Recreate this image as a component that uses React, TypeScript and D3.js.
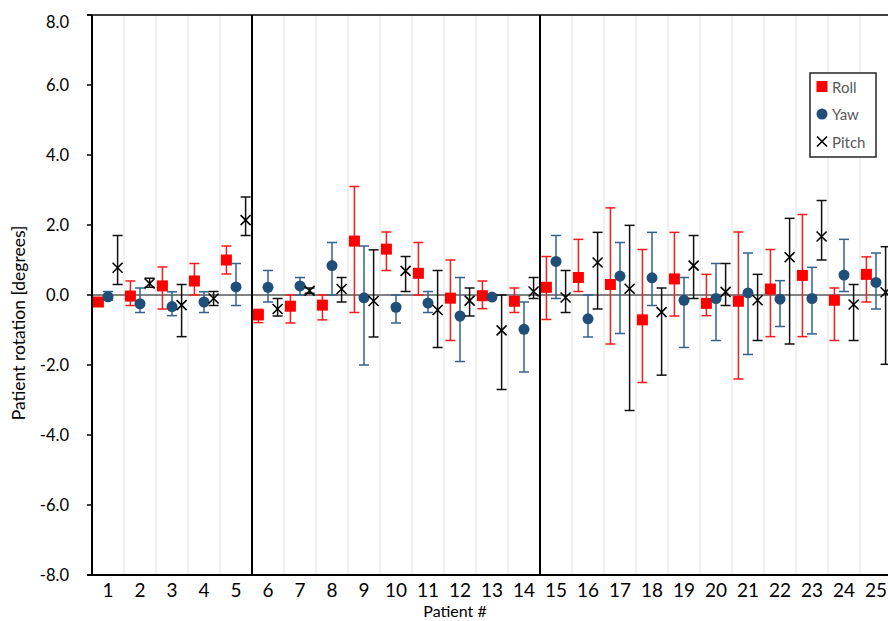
import React from "react";
import * as d3 from "d3";

const patients = ["1","2","3","4","5","6","7","8","9","10","11","12","13","14","15","16","17","18","19","20","21","22","23","24","25"];

const rollMean = [-0.2, -0.03, 0.26, 0.4, 1.0, -0.57, -0.32, -0.29, 1.54, 1.31, 0.62, -0.09, -0.02, -0.18, 0.22, 0.5, 0.3, -0.71, 0.46, -0.24, -0.18, 0.17, 0.56, -0.15, 0.59];
const rollLow = [-0.3, -0.3, -0.4, 0.0, 0.6, -0.79, -0.8, -0.71, -0.5, 0.7, 0.0, -1.3, -0.39, -0.5, -0.7, 0.1, -1.4, -2.5, -0.6, -0.59, -2.4, -1.19, -1.19, -1.3, -0.2];
const rollHigh = [-0.1, 0.4, 0.8, 0.9, 1.4, -0.41, 0.0, 0.0, 3.1, 1.8, 1.5, 1.0, 0.4, 0.2, 1.1, 1.59, 2.49, 1.3, 1.79, 0.59, 1.8, 1.3, 2.3, 0.2, 1.09];

const yawMean = [-0.05, -0.25, -0.33, -0.2, 0.23, 0.22, 0.26, 0.84, -0.08, -0.35, -0.23, -0.6, -0.06, -0.98, 0.96, -0.68, 0.54, 0.49, -0.15, -0.1, 0.06, -0.12, -0.1, 0.57, 0.36];
const yawLow = [-0.15, -0.5, -0.59, -0.5, -0.3, -0.2, 0.0, 0.0, -2.0, -0.8, -0.5, -1.9, -0.1, -2.2, -0.1, -1.2, -1.1, -0.3, -1.5, -1.3, -1.7, -0.9, -1.11, 0.1, -0.4];
const yawHigh = [0.1, 0.2, 0.09, 0.09, 0.9, 0.7, 0.5, 1.5, 1.4, 0.0, 0.1, 0.5, -0.02, -0.2, 1.7, 0.0, 1.5, 1.79, 0.5, 0.9, 1.2, 0.41, 0.79, 1.59, 1.2];

const pitchMean = [0.78, 0.33, -0.29, -0.1, 2.14, -0.4, 0.12, 0.17, -0.17, 0.69, -0.43, -0.16, -1.01, 0.1, -0.07, 0.93, 0.18, -0.49, 0.84, 0.09, -0.15, 1.08, 1.67, -0.27, 0.08];
const pitchLow = [0.3, 0.22, -1.19, -0.3, 1.7, -0.6, 0.05, -0.2, -1.2, 0.1, -1.5, -0.6, -2.7, -0.1, -0.5, -0.4, -3.3, -2.29, -0.1, -0.3, -1.3, -1.4, 1.0, -1.3, -1.98];
const pitchHigh = [1.7, 0.48, 0.3, 0.1, 2.8, -0.1, 0.2, 0.5, 1.29, 1.1, 0.7, 0.2, 0.0, 0.5, 0.7, 1.79, 1.99, 0.2, 1.7, 0.9, 0.59, 2.19, 2.7, 0.3, 1.38];

const yTicks = [-8, -6, -4, -2, 0, 2, 4, 6, 8];
const groupBreaks = [5, 14];

const FONT = "Lato, 'Open Sans', sans-serif";

export default function App() {
  const width = 888;
  const height = 621;

  const x = d3.scaleLinear().domain([0, 25]).range([92, 892]);
  const y = d3.scaleLinear().domain([-8, 8]).range([575, 15]);

  const series = [
    { name: "Roll", mean: rollMean, low: rollLow, high: rollHigh, offset: 0.2, color: "#ff0000", barColor: "#ff1a1a", shape: "square" },
    { name: "Yaw", mean: yawMean, low: yawLow, high: yawHigh, offset: 0.5, color: "#1f4e79", barColor: "#33628f", shape: "circle" },
    { name: "Pitch", mean: pitchMean, low: pitchLow, high: pitchHigh, offset: 0.8, color: "#000000", barColor: "#111111", shape: "cross" },
  ];

  const marker = (shape: string, cx: number, cy: number, color: string, key?: string) => {
    if (shape === "square") {
      return <rect key={key} x={cx - 5.5} y={cy - 5.5} width={11} height={11} fill={color} />;
    }
    if (shape === "circle") {
      return <circle key={key} cx={cx} cy={cy} r={5.5} fill={color} />;
    }
    return (
      <path
        key={key}
        d={`M${cx - 5},${cy - 5}L${cx + 5},${cy + 5}M${cx - 5},${cy + 5}L${cx + 5},${cy - 5}`}
        stroke={color}
        strokeWidth={1.6}
        fill="none"
      />
    );
  };

  return (
    <svg
      width={width}
      height={height}
      style={{ position: "absolute", left: 0, top: 0, background: "#fff" }}
      fontFamily={FONT}
    >
      <rect x={0} y={0} width={width} height={height} fill="#fff" />

      {/* vertical gridlines between patients */}
      {patients.map((p, i) =>
        i === 0 ? null : (
          <line key={"g" + p} x1={x(i)} x2={x(i)} y1={y(8)} y2={y(-8)} stroke="#ececec" strokeWidth={1.5} />
        )
      )}

      {/* zero line */}
      <line x1={x(0)} x2={x(25)} y1={y(0)} y2={y(0)} stroke="#595959" strokeWidth={1.5} />

      {/* group separators */}
      {groupBreaks.map((b) => (
        <line key={"b" + b} x1={x(b)} x2={x(b)} y1={y(8)} y2={y(-8)} stroke="#000" strokeWidth={2} />
      ))}

      {/* axes */}
      <line x1={x(0)} x2={x(0)} y1={y(8)} y2={y(-8)} stroke="#000" strokeWidth={2} />
      <line x1={x(0) - 5} x2={x(25)} y1={y(-8)} y2={y(-8)} stroke="#000" strokeWidth={2} />
      <line x1={x(0) - 5} x2={x(25)} y1={y(8)} y2={y(8)} stroke="#000" strokeWidth={1.5} />
      {yTicks.map((t) => (
        <g key={"yt" + t}>
          <line x1={x(0) - 5} x2={x(0)} y1={y(t)} y2={y(t)} stroke="#000" strokeWidth={1.5} />
          <text
            x={69}
            y={Math.max(y(t), 21.5)}
            textAnchor="end"
            dominantBaseline="central"
            fontSize={16.5}
            fill="#000"
          >
            {t.toFixed(1)}
          </text>
        </g>
      ))}

      {patients.map((p, i) => (
        <text key={"xt" + p} x={x(i + 0.5)} y={597} textAnchor="middle" fontSize={19} fill="#000">
          {p}
        </text>
      ))}

      <text x={455} y={617} textAnchor="middle" fontSize={16} fill="#000">
        Patient #
      </text>
      <text
        transform={`translate(25,323) rotate(-90)`}
        textAnchor="middle"
        fontSize={17.5}
        fill="#000"
      >
        Patient rotation [degrees]
      </text>

      {/* series: error bars then markers */}
      {series.map((s) => (
        <g key={s.name}>
          {s.mean.map((m, i) => {
            const cx = x(i + s.offset);
            return (
              <g key={i}>
                <line x1={cx} x2={cx} y1={y(s.low[i])} y2={y(s.high[i])} stroke={s.barColor} strokeWidth={1.5} />
                <line x1={cx - 5} x2={cx + 5} y1={y(s.low[i])} y2={y(s.low[i])} stroke={s.barColor} strokeWidth={1.5} />
                <line x1={cx - 5} x2={cx + 5} y1={y(s.high[i])} y2={y(s.high[i])} stroke={s.barColor} strokeWidth={1.5} />
              </g>
            );
          })}
          {s.mean.map((m, i) => marker(s.shape, x(i + s.offset), y(m), s.color, "m" + i))}
        </g>
      ))}

      {/* legend */}
      <g>
        <rect x={810} y={73} width={66} height={84} fill="#fff" stroke="#262626" strokeWidth={1.5} />
        {series.map((s, i) => {
          const cy = 86.5 + i * 27.5;
          return (
            <g key={"l" + s.name}>
              {marker(s.shape, 822, cy, s.color)}
              <text x={832} y={cy} dominantBaseline="central" fontSize={15} fill="#595959">
                {s.name}
              </text>
            </g>
          );
        })}
      </g>
    </svg>
  );
}
